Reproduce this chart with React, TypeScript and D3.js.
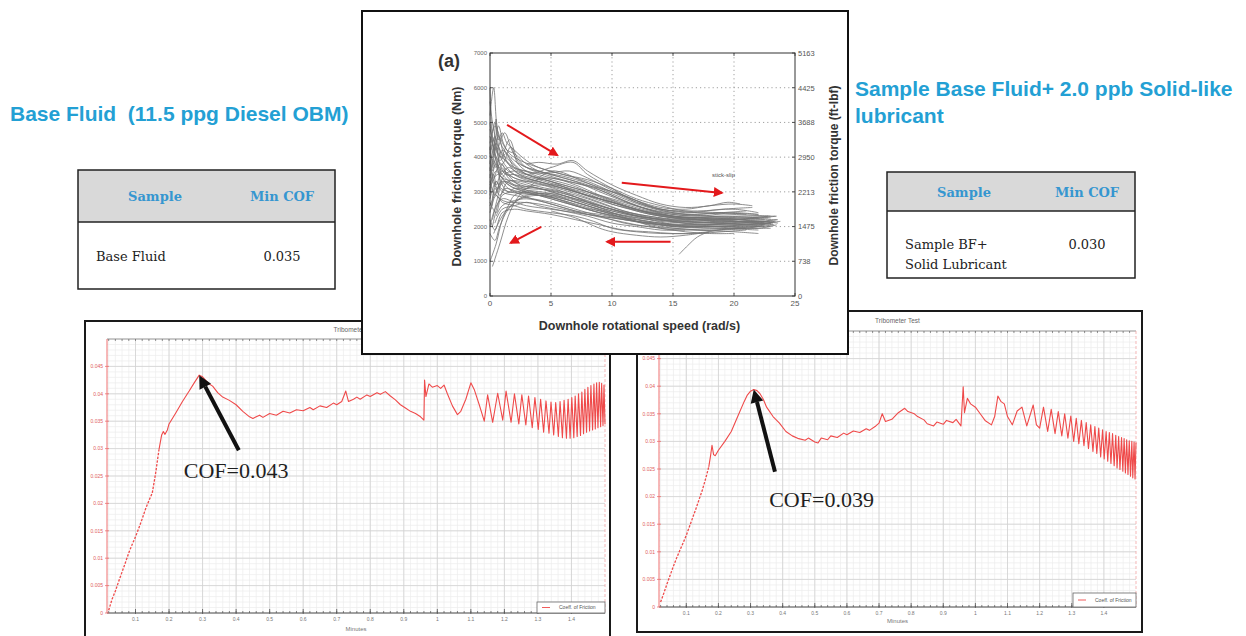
import React from "react";
import * as d3 from "d3";

// ---------- Tribometer runs: [minutes, coefficient of friction] ----------
const baseFluidRun: [number, number][] = [
  [0.02, 0.0005], [0.03, 0.0025], [0.04, 0.004], [0.05, 0.0058], [0.06, 0.0075], [0.07, 0.0092],
  [0.08, 0.011], [0.09, 0.0125], [0.1, 0.0139], [0.11, 0.0155], [0.12, 0.0172], [0.13, 0.019],
  [0.14, 0.0205], [0.15, 0.0219], [0.16, 0.0255], [0.17, 0.0298], [0.178, 0.0325], [0.183, 0.0331],
  [0.188, 0.0326], [0.195, 0.0334], [0.2, 0.0345], [0.22, 0.0365], [0.24, 0.0386], [0.26, 0.0405],
  [0.275, 0.042], [0.29, 0.0434], [0.3, 0.0431], [0.31, 0.0424], [0.32, 0.0418], [0.33, 0.0414],
  [0.345, 0.0402], [0.36, 0.0394], [0.38, 0.0388], [0.4, 0.038], [0.42, 0.0368], [0.44, 0.0358],
  [0.45, 0.0355], [0.46, 0.0358], [0.47, 0.0361], [0.48, 0.0357], [0.5, 0.0364], [0.52, 0.0361],
  [0.54, 0.0368], [0.56, 0.0365], [0.58, 0.0371], [0.6, 0.0369], [0.62, 0.0375], [0.63, 0.0371],
  [0.65, 0.0378], [0.67, 0.0375], [0.69, 0.0383], [0.7, 0.038], [0.715, 0.0386], [0.727, 0.0405],
  [0.735, 0.0386], [0.75, 0.039], [0.76, 0.0394], [0.77, 0.039], [0.79, 0.0398], [0.8, 0.0395],
  [0.82, 0.0402], [0.83, 0.0399], [0.845, 0.0404], [0.86, 0.0396], [0.875, 0.0389], [0.89, 0.038],
  [0.905, 0.0374], [0.92, 0.0368], [0.935, 0.0364], [0.95, 0.0358], [0.96, 0.0352], [0.962, 0.0425],
  [0.966, 0.0395], [0.975, 0.0418], [0.985, 0.0412], [1.0, 0.0415], [1.01, 0.041], [1.02, 0.0416],
  [1.03, 0.04], [1.045, 0.0378], [1.06, 0.0362], [1.07, 0.0368], [1.085, 0.039], [1.1, 0.042],
  [1.11, 0.0408], [1.125, 0.038], [1.14, 0.035], [1.15, 0.0398], [1.165, 0.0348], [1.18, 0.0401],
  [1.195, 0.0352], [1.205, 0.0405], [1.22, 0.0348], [1.23, 0.04], [1.243, 0.0345], [1.252, 0.0398],
  [1.264, 0.0343], [1.272, 0.0396], [1.283, 0.0338], [1.291, 0.0393], [1.301, 0.0335], [1.308, 0.039],
  [1.317, 0.033], [1.324, 0.0387], [1.333, 0.0328], [1.339, 0.0385], [1.347, 0.0325], [1.353, 0.0384],
  [1.361, 0.0322], [1.366, 0.0386], [1.373, 0.032], [1.378, 0.0388], [1.385, 0.0319], [1.39, 0.039],
  [1.396, 0.0319], [1.401, 0.0393], [1.407, 0.032], [1.411, 0.0396], [1.417, 0.0322], [1.421, 0.04],
  [1.427, 0.0324], [1.431, 0.0403], [1.436, 0.0327], [1.44, 0.0408], [1.445, 0.033], [1.449, 0.0412],
  [1.454, 0.0332], [1.458, 0.0415], [1.463, 0.0334], [1.467, 0.0418], [1.471, 0.0336], [1.475, 0.042],
  [1.479, 0.0338], [1.483, 0.0421], [1.487, 0.034], [1.49, 0.0419], [1.494, 0.0342], [1.497, 0.0416],
  [1.5, 0.0345],
];

const solidLubeRun: [number, number][] = [
  [0.02, 0.0009], [0.03, 0.0025], [0.04, 0.0042], [0.05, 0.0058], [0.06, 0.0074], [0.07, 0.0089],
  [0.08, 0.0103], [0.09, 0.0116], [0.1, 0.013], [0.11, 0.0146], [0.12, 0.0162], [0.13, 0.0178],
  [0.14, 0.0195], [0.15, 0.0212], [0.16, 0.0232], [0.17, 0.0254], [0.175, 0.0272], [0.18, 0.0293],
  [0.185, 0.0276], [0.19, 0.0274], [0.2, 0.0284], [0.22, 0.03], [0.24, 0.0318], [0.26, 0.0345],
  [0.28, 0.0372], [0.29, 0.0384], [0.3, 0.0391], [0.31, 0.0394], [0.32, 0.0392], [0.33, 0.0386],
  [0.34, 0.0376], [0.35, 0.0362], [0.37, 0.0345], [0.39, 0.0333], [0.41, 0.0318], [0.43, 0.031],
  [0.45, 0.0305], [0.47, 0.0302], [0.48, 0.0306], [0.5, 0.0299], [0.51, 0.0297], [0.52, 0.0306],
  [0.54, 0.0303], [0.55, 0.031], [0.57, 0.0307], [0.59, 0.0315], [0.6, 0.0312], [0.62, 0.0319],
  [0.64, 0.0316], [0.66, 0.0323], [0.67, 0.032], [0.69, 0.0328], [0.7, 0.0333], [0.71, 0.035],
  [0.72, 0.0336], [0.74, 0.034], [0.76, 0.0352], [0.78, 0.036], [0.79, 0.0354], [0.81, 0.035],
  [0.82, 0.0345], [0.84, 0.0339], [0.85, 0.0332], [0.87, 0.0328], [0.88, 0.0335], [0.9, 0.0331],
  [0.91, 0.0338], [0.93, 0.0334], [0.94, 0.034], [0.955, 0.0328], [0.962, 0.0399], [0.966, 0.0352],
  [0.975, 0.0378], [0.985, 0.0368], [1.0, 0.0362], [1.015, 0.035], [1.03, 0.0338], [1.05, 0.033],
  [1.06, 0.0345], [1.07, 0.0382], [1.08, 0.0372], [1.09, 0.0368], [1.1, 0.0345], [1.115, 0.033],
  [1.13, 0.0355], [1.145, 0.0362], [1.16, 0.0328], [1.18, 0.0366], [1.19, 0.033], [1.2, 0.0324],
  [1.212, 0.0362], [1.225, 0.0318], [1.236, 0.0358], [1.248, 0.0314], [1.258, 0.0354], [1.269, 0.031],
  [1.278, 0.035], [1.288, 0.0306], [1.297, 0.0346], [1.306, 0.03], [1.314, 0.0342], [1.322, 0.0296],
  [1.33, 0.0338], [1.338, 0.0292], [1.345, 0.0334], [1.352, 0.0287], [1.359, 0.033], [1.366, 0.0282],
  [1.372, 0.0327], [1.378, 0.0278], [1.384, 0.0324], [1.39, 0.0272], [1.396, 0.0321], [1.401, 0.0268],
  [1.407, 0.0318], [1.412, 0.0264], [1.417, 0.0316], [1.422, 0.026], [1.427, 0.0314], [1.432, 0.0256],
  [1.437, 0.0311], [1.441, 0.0252], [1.446, 0.0309], [1.45, 0.0249], [1.455, 0.0307], [1.459, 0.0246],
  [1.463, 0.0305], [1.467, 0.0243], [1.471, 0.0303], [1.475, 0.024], [1.479, 0.0301], [1.483, 0.0237],
  [1.487, 0.03], [1.49, 0.0234], [1.494, 0.0299], [1.497, 0.0232], [1.5, 0.0298],
];

const minuteTicks = [0.1, 0.2, 0.3, 0.4, 0.5, 0.6, 0.7, 0.8, 0.9, 1, 1.1, 1.2, 1.3, 1.4];
const cofTicks = [0, 0.005, 0.01, 0.015, 0.02, 0.025, 0.03, 0.035, 0.04, 0.045];

// ---------- Summary tables ----------
const baseTableRows = [["Base Fluid", "0.035"]];
const lubeTableRows = [["Sample BF+|Solid Lubricant", "0.030"]];

// ---------- Downhole torque vs rotational speed traces: [rad/s, N·m] ----------
const torqueTraces: [number, number][][] = [
  [[0, 3200], [0.5, 3600], [1, 3400], [2, 3300], [3, 3200], [5, 3000], [7, 2800], [10, 2500], [13, 2300], [16, 2150], [19, 2100], [22, 2050], [23.3, 2150]],
  [[0, 4200], [0.4, 5000], [0.8, 4200], [1.5, 3800], [3, 3500], [5, 3300], [7, 3000], [10, 2700], [13, 2400], [16, 2200], [19, 2200], [22, 2100], [23, 2200]],
  [[0, 2600], [0.5, 3000], [1, 3300], [2, 3100], [4, 2900], [6, 2700], [9, 2400], [12, 2200], [15, 2000], [18, 2000], [21, 1950], [22.5, 2050]],
  [[0, 5200], [0.3, 6000], [0.6, 4800], [1, 4300], [2, 3900], [3, 3700], [5, 3500], [7, 3300], [9, 3000], [12, 2600], [15, 2300], [18, 2250], [21, 2200], [23.5, 2200]],
  [[0, 3800], [0.5, 4400], [1, 3900], [2, 3500], [4, 3300], [6, 3100], [8, 2900], [11, 2600], [14, 2300], [17, 2200], [20, 2150], [23, 2100]],
  [[0, 1000], [0.5, 1500], [1, 2200], [1.5, 2600], [2, 2900], [3, 3000], [5, 2900], [7, 2700], [10, 2400], [13, 2200], [16, 2000], [19, 1950], [22, 1900]],
  [[0.2, 2200], [0.6, 2800], [1.2, 3500], [2, 3600], [3, 3500], [5, 3700], [6.8, 3850], [8, 3500], [10, 3100], [12, 2700], [15, 2400], [18, 2300], [21, 2250], [22.8, 2300]],
  [[0, 4600], [0.5, 4200], [1.2, 4700], [1.8, 4200], [2.5, 3800], [4, 3600], [6, 3400], [8, 3200], [10, 2900], [12, 2600], [14, 2400], [17, 2300], [20, 2400], [22, 2350]],
  [[0, 2000], [0.4, 2500], [1, 2800], [2, 2700], [3, 2600], [5, 2500], [7, 2400], [9, 2300], [11, 2200], [14, 2000], [17, 1900], [20, 1850], [22, 1800]],
  [[0, 3000], [0.3, 3900], [0.8, 3500], [1.5, 3200], [3, 3000], [5, 2800], [7, 2600], [9, 2450], [12, 2250], [15, 2150], [18, 2100], [21, 2050], [23, 2000]],
  [[0.1, 4000], [0.5, 3700], [1, 4200], [2, 3800], [3, 3500], [5, 3300], [7, 3100], [10, 2800], [13, 2500], [16, 2350], [19, 2400], [21, 2350]],
  [[0, 3500], [0.6, 3100], [1.2, 3300], [2, 3200], [4, 3100], [6, 2900], [8, 2650], [10, 2450], [12, 2300], [15, 2200], [18, 2150], [20, 2150], [22.5, 2200]],
  [[0.2, 850], [0.8, 1500], [1.5, 2300], [2.2, 2800], [3, 3100], [4, 3200], [6, 3000], [8, 2700], [10, 2400], [12, 2150], [14, 1950], [16, 1900]],
  [[0, 4800], [0.4, 4400], [0.9, 4000], [1.6, 4500], [2.2, 4000], [3, 3700], [4.5, 3500], [6.5, 3300], [9, 3100], [11, 2900], [13, 2600], [16, 2400], [19, 2500], [21.5, 2550]],
  [[0, 2800], [0.5, 3300], [1, 3000], [2, 2900], [3.5, 2800], [5, 2700], [7, 2500], [9, 2300], [11, 2100], [13, 2000], [15, 1950], [18, 1900], [20.5, 1950]],
  [[0, 3400], [0.3, 4100], [0.7, 4600], [1.2, 4000], [2, 3600], [3, 3400], [5, 3200], [7, 3000], [9, 2750], [11, 2550], [14, 2350], [17, 2200], [20, 2100], [23, 2150]],
  [[0.3, 1800], [1, 2300], [2, 2700], [3, 2900], [5, 2950], [7, 2800], [9, 2600], [11, 2400], [13, 2250], [16, 2100], [19, 2050], [22, 2050], [23.2, 2100]],
  [[0, 3700], [0.5, 3200], [1, 3600], [2, 3400], [3, 3300], [5, 3400], [7, 3200], [9, 2900], [11, 2650], [13, 2450], [15, 2300], [18, 2200], [21, 2150], [23.4, 2150]],
  [[0, 4400], [0.4, 4900], [0.9, 4500], [1.4, 4200], [2, 4100], [3, 3800], [4, 3600], [6, 3450], [8, 3250], [10, 3000], [12, 2750], [14, 2500], [17, 2450], [20, 2500], [22, 2400]],
  [[0, 2400], [0.5, 2900], [1, 2700], [2, 2600], [3, 2500], [5, 2400], [7, 2300], [8.5, 2150], [10, 1950], [12, 1850], [14, 1800], [16, 1800], [18, 1850]],
  [[0.1, 3300], [0.5, 3800], [1, 3500], [2, 3200], [3, 3100], [5, 3050], [7, 2850], [9, 2600], [11, 2400], [13, 2250], [16, 2150], [19, 2200], [22, 2250], [23.5, 2300]],
  [[0, 5600], [0.2, 5000], [0.5, 4500], [1, 4100], [1.6, 3900], [2.5, 3600], [4, 3400], [6, 3200], [8, 3000], [10, 2750], [12, 2500], [15, 2300], [18, 2250], [21, 2200]],
  [[0.2, 2000], [0.6, 2600], [1, 3000], [1.5, 3300], [2.5, 3300], [4, 3150], [6, 3000], [8, 2800], [10, 2550], [12, 2350], [14, 2200], [17, 2050], [20, 2000], [22.5, 2000]],
  [[0, 3900], [0.3, 3400], [0.8, 3800], [1.5, 3600], [2.5, 3400], [4, 3250], [6, 3100], [8, 2900], [11, 2600], [14, 2350], [17, 2250], [20, 2200], [22, 2250]],
  [[0.5, 2300], [1, 2600], [2, 2750], [3, 2800], [4.5, 2700], [6, 2550], [8, 2350], [10, 2200], [12, 2050], [14, 1950], [16, 1850], [18, 1800], [20, 1800]],
  [[0, 4100], [0.3, 4500], [0.6, 4100], [1.3, 3900], [2, 3700], [3.5, 3550], [5, 3550], [6.5, 3600], [8, 3400], [10, 3050], [12, 2750], [14, 2550], [16, 2500], [18, 2600], [20, 2650], [21.5, 2600]],
  [[0, 3100], [0.6, 3500], [1.3, 3300], [2.5, 3100], [4, 2950], [6, 2750], [8, 2550], [10, 2350], [12, 2150], [14, 2050], [16, 2000], [19, 2000], [22, 1950], [23.5, 2050]],
  [[0, 1800], [0.4, 1600], [0.8, 2000], [1.5, 2500], [2.5, 2800], [4, 2900], [6, 2800], [8, 2600], [10, 2350], [12, 2150], [15, 2000], [18, 1950], [21, 1950], [23, 1950]],
  [[0.1, 4700], [0.4, 4100], [1, 3800], [1.7, 4300], [2.3, 3800], [3.5, 3500], [5, 3350], [7, 3150], [9, 2850], [11, 2600], [13, 2400], [16, 2250], [19, 2300], [22, 2250]],
  [[5, 2450], [7, 2250], [8, 2100], [9, 1950], [10, 1850], [12, 1750], [14, 1700], [16, 1750], [18, 1850]],
  [[15.5, 1200], [16.2, 1450], [17, 1700], [18, 1850], [20, 1950], [22, 2000]],
  [[0.2, 2600], [0.5, 3300], [0.9, 3100], [1.6, 3000], [2.5, 2950], [4, 2900], [6, 2750], [8, 2500], [10, 2300], [13, 2100], [16, 2000], [19, 2000], [22, 2000], [23.2, 2050]],
  [[0, 6000], [0.2, 4500], [0.5, 3900], [1, 3600], [2, 3400], [3, 3300], [5, 3150], [7, 2950], [9, 2700], [11, 2450], [13, 2300], [16, 2200], [19, 2250], [22, 2150], [23.6, 2200]],
  [[0.3, 3000], [0.8, 2800], [1.5, 2700], [2.5, 2700], [4, 2650], [6, 2500], [8, 2350], [10, 2250], [12, 2150], [14, 2100], [17, 2050], [20, 2100], [22.5, 2100]],
  [[3, 3800], [4, 3850], [5.5, 3800], [6.8, 3900], [8, 3600], [10, 3200], [12, 2900], [14, 2650], [16, 2550], [18, 2600], [19.5, 2700], [20.5, 2650]],
  [[0, 2200], [0.4, 1900], [1, 2400], [2, 2500], [3, 2450], [5, 2350], [7, 2200], [9, 2050], [11, 1900], [13, 1850], [15, 1800], [17, 1800], [19, 1850], [21, 1900]],
  [[0.3, 4000], [0.5, 5100], [0.7, 4500], [1, 4700], [1.4, 4400], [2, 4200], [3, 3900], [4, 3700], [6, 3500], [8, 3300], [10, 3000], [12, 2700], [14, 2500], [17, 2400], [20, 2350], [23, 2300]],
  [[0, 3600], [0.3, 4300], [0.6, 3700], [1, 3200], [1.5, 3000], [2, 3100], [3, 3050], [5, 2950], [7, 2700], [9, 2500], [11, 2300], [13, 2150], [15, 2050], [18, 2050], [21, 2050], [23.8, 2150]],
  [[0, 2900], [0.3, 3500], [0.6, 3000], [1, 3800], [1.5, 3400], [2.5, 3200], [4, 3100], [6, 2950], [8, 2750], [10, 2500], [12, 2300], [14, 2150], [17, 2100], [20, 2150], [22.5, 2150]],
  [[0, 4300], [0.2, 3600], [0.5, 4000], [0.9, 3500], [1.5, 3700], [2.5, 3500], [4, 3350], [6, 3150], [8, 2950], [10, 2650], [12, 2450], [14, 2300], [17, 2250], [20, 2250], [23, 2250]],
  [[0.1, 2500], [0.4, 3100], [0.8, 2900], [1.3, 3100], [2, 3000], [3, 2850], [5, 2650], [7, 2450], [9, 2350], [11, 2200], [13, 2100], [15, 2050], [18, 2050], [21, 2100], [23.3, 2050]],
  [[0, 5000], [0.3, 4300], [0.7, 4900], [1.1, 4400], [1.6, 4100], [2.5, 3900], [4, 3700], [6, 3500], [8, 3350], [10, 3100], [12, 2800], [14, 2600], [16, 2450], [19, 2400], [22, 2350]],
  [[0, 3300], [0.4, 2900], [0.9, 3300], [1.5, 3100], [2.5, 3000], [4, 2950], [6, 2850], [8, 2650], [10, 2450], [12, 2300], [14, 2200], [16, 2150], [19, 2100], [22, 2150], [23.6, 2100]],
  [[0.2, 3700], [0.5, 4300], [0.8, 3800], [1.3, 3500], [2, 3500], [3, 3400], [4.5, 3250], [6, 3150], [8, 2900], [10, 2700], [12, 2450], [14, 2300], [17, 2200], [20, 2200], [22.8, 2250]],
  [[0, 2700], [0.5, 2400], [1, 2900], [2, 3000], [3, 2950], [5, 2850], [7, 2600], [9, 2400], [11, 2250], [13, 2150], [15, 2050], [18, 2000], [21, 2050], [23, 2100]],
  [[1, 3700], [2, 3300], [3, 3100], [4, 3400], [5, 3600], [6, 3550], [7, 3400], [9, 3100], [11, 2800], [13, 2550], [15, 2400], [17, 2350], [19, 2400], [21, 2450]],
  [[0, 4000], [0.4, 4600], [0.8, 3900], [1.3, 4100], [2, 3700], [3, 3600], [5, 3400], [7, 3250], [9, 3050], [11, 2750], [13, 2500], [15, 2350], [18, 2300], [21, 2300], [23.4, 2300]],
  [[0.4, 2100], [1, 2500], [2, 2600], [3, 2700], [4, 2600], [6, 2450], [8, 2300], [10, 2100], [12, 2000], [14, 1900], [16, 1900], [19, 1900], [21, 1950]],
];

const speedTicks = [0, 5, 10, 15, 20, 25];
const torqueNmTicks = [0, 1000, 2000, 3000, 4000, 5000, 6000, 7000];
const torqueFtLbfTicks = ["0", "738", "1475", "2213", "2950", "3688", "4425", "5163"];

// Trend arrows in data units [speed, torque]
const trendArrows: { from: [number, number]; to: [number, number] }[] = [
  { from: [1.4, 4930], to: [5.5, 4060] },
  { from: [10.8, 3260], to: [19.0, 2970] },
  { from: [14.8, 1560], to: [9.6, 1560] },
  { from: [4.2, 1990], to: [1.7, 1530] },
];

const HEAD = "#23a0d4";
const TABLE_BLUE = "#3596d0";
const RED = "#ef4a4a";

type Rect = { left: number; right: number; top: number; bottom: number };

function TriboPanel(props: {
  frame: { x: number; y: number; w: number; h: number };
  plot: Rect;
  titleY: number;
  minutesY: number;
  run: [number, number][];
  label: string;
  labelAt: [number, number];
  tail: [number, number];
  legend: { x: number; y: number; w: number; h: number };
}) {
  const { frame, plot, run } = props;
  const x = d3.scaleLinear().domain([0.015, 1.5]).range([plot.left, plot.right]);
  const y = d3.scaleLinear().domain([0, 0.05]).range([plot.bottom, plot.top]);
  const minorX = d3.range(1, 75).map((i) => i * 0.02);
  const minorY = d3.range(1, 50).map((i) => i * 0.001);
  const line = d3
    .line<[number, number]>()
    .x((d) => x(d[0]))
    .y((d) => y(d[1]));
  const ramp = run.filter((d) => d[0] <= 0.17);
  const rest = run.filter((d) => d[0] >= 0.17);
  // first friction peak (run-in), before the stick-slip region
  const peak = run.filter((d) => d[0] < 0.5).reduce((a, b) => (b[1] > a[1] ? b : a));
  const tip: [number, number] = [x(peak[0]), y(peak[1])];
  const tl: [number, number] = [x(props.tail[0]), y(props.tail[1])];
  const ang = Math.atan2(tip[1] - tl[1], tip[0] - tl[0]);
  const hl = 13;
  const hw = 6.5;
  const base: [number, number] = [tip[0] - hl * Math.cos(ang), tip[1] - hl * Math.sin(ang)];
  const nx = -Math.sin(ang);
  const ny = Math.cos(ang);
  const head = [
    tip,
    [base[0] + nx * hw, base[1] + ny * hw],
    [base[0] - nx * hw, base[1] - ny * hw],
  ]
    .map((p) => p.join(","))
    .join(" ");
  const cx = (plot.left + plot.right) / 2;
  return (
    <g>
      <rect x={frame.x} y={frame.y} width={frame.w} height={frame.h} fill="#fff" stroke="#1a1a1a" strokeWidth={2} />
      <text x={cx} y={props.titleY} textAnchor="middle" fontSize={6.5} fill="#666" fontFamily="Liberation Sans, Arial">
        Tribometer Test
      </text>
      {/* minor grid */}
      {minorX.map((v, i) => (
        <line key={"mx" + i} x1={x(v)} x2={x(v)} y1={plot.top} y2={plot.bottom} stroke="#ececec" strokeWidth={0.7} />
      ))}
      {minorY.map((v, i) => (
        <line key={"my" + i} x1={plot.left} x2={plot.right} y1={y(v)} y2={y(v)} stroke="#ececec" strokeWidth={0.7} />
      ))}
      {/* major grid */}
      {minuteTicks.map((v, i) => (
        <line key={"gx" + i} x1={x(v)} x2={x(v)} y1={plot.top} y2={plot.bottom} stroke="#d2d2d2" strokeWidth={0.8} />
      ))}
      {cofTicks.map((v, i) => (
        <line key={"gy" + i} x1={plot.left} x2={plot.right} y1={y(v)} y2={y(v)} stroke="#d2d2d2" strokeWidth={0.8} />
      ))}
      {/* top edge with ticks */}
      <line x1={plot.left} x2={plot.right} y1={plot.top} y2={plot.top} stroke="#777" strokeWidth={0.8} />
      {minorX.map((v, i) => (
        <line key={"tt" + i} x1={x(v)} x2={x(v)} y1={plot.top} y2={plot.top + 2} stroke="#666" strokeWidth={0.7} />
      ))}
      {/* right edge */}
      <line x1={plot.right} x2={plot.right} y1={plot.top} y2={plot.bottom} stroke="#f2a5a5" strokeWidth={0.8} strokeDasharray="3,2" />
      {/* bottom axis */}
      <line x1={plot.left} x2={plot.right} y1={plot.bottom} y2={plot.bottom} stroke="#555" strokeWidth={1} />
      {minorX.map((v, i) => (
        <line key={"bt" + i} x1={x(v)} x2={x(v)} y1={plot.bottom} y2={plot.bottom - 2} stroke="#555" strokeWidth={0.7} />
      ))}
      {minuteTicks.map((v, i) => (
        <g key={"xl" + i}>
          <line x1={x(v)} x2={x(v)} y1={plot.bottom + 1} y2={plot.bottom - 4} stroke="#555" strokeWidth={0.8} />
          <text x={x(v)} y={plot.bottom + 8} textAnchor="middle" fontSize={5} fill="#777" fontFamily="Liberation Sans, Arial">
            {String(v)}
          </text>
        </g>
      ))}
      <text x={cx} y={props.minutesY} textAnchor="middle" fontSize={6} fill="#777" fontFamily="Liberation Sans, Arial">
        Minutes
      </text>
      {/* left axis in red */}
      <line x1={plot.left} x2={plot.left} y1={plot.top} y2={plot.bottom} stroke="#ee7070" strokeWidth={1} />
      {cofTicks.map((v, i) => (
        <g key={"yl" + i}>
          <line x1={plot.left - 2} x2={plot.left + 2} y1={y(v)} y2={y(v)} stroke="#ee7070" strokeWidth={0.8} />
          <text x={plot.left - 4} y={y(v) + 1.8} textAnchor="end" fontSize={5} fill="#e06060" fontFamily="Liberation Sans, Arial">
            {String(v)}
          </text>
        </g>
      ))}
      {/* friction trace */}
      <path d={line(ramp) || ""} fill="none" stroke={RED} strokeWidth={1.3} strokeDasharray="2.4,1.4" />
      <path d={line(rest) || ""} fill="none" stroke={RED} strokeWidth={1.1} strokeLinejoin="round" />
      {/* legend */}
      <rect x={props.legend.x} y={props.legend.y} width={props.legend.w} height={props.legend.h} fill="#fff" stroke="#666" strokeWidth={0.8} />
      <line
        x1={props.legend.x + 5}
        x2={props.legend.x + 13}
        y1={props.legend.y + props.legend.h / 2}
        y2={props.legend.y + props.legend.h / 2}
        stroke={RED}
        strokeWidth={0.9}
      />
      <text
        x={props.legend.x + 22}
        y={props.legend.y + props.legend.h / 2 + 1.8}
        fontSize={5}
        fill="#555"
        fontFamily="Liberation Sans, Arial"
      >
        Coeff. of Friction
      </text>
      {/* peak annotation */}
      <line x1={tl[0]} y1={tl[1]} x2={base[0]} y2={base[1]} stroke="#111" strokeWidth={4} />
      <polygon points={head} fill="#111" />
      <text
        x={x(props.labelAt[0])}
        y={y(props.labelAt[1])}
        fontSize={22}
        fill="#1e1e1e"
        fontFamily="Liberation Serif, Times New Roman, serif"
      >
        {props.label}
      </text>
    </g>
  );
}

function TorquePanel() {
  const plot = { left: 490, right: 795, top: 53, bottom: 296 };
  const sx = d3.scaleLinear().domain([0, 25]).range([plot.left, plot.right]);
  const sy = d3.scaleLinear().domain([0, 7000]).range([plot.bottom, plot.top]);
  const line = d3
    .line<[number, number]>()
    .x((d) => sx(d[0]))
    .y((d) => sy(d[1]))
    .curve(d3.curveCatmullRom.alpha(0.5));
  const font = "Liberation Sans, Arial, sans-serif";
  return (
    <g>
      <rect x={362} y={11} width={486} height={343} fill="#fff" stroke="#111" strokeWidth={2} />
      <defs>
        <marker id="redHead" viewBox="0 0 10 10" refX={8} refY={5} markerWidth={5} markerHeight={5} orient="auto">
          <path d="M0,0 L10,5 L0,10 z" fill="#e3191c" />
        </marker>
      </defs>
      {/* dotted grid */}
      {speedTicks.slice(1, -1).map((v, i) => (
        <line key={"vx" + i} x1={sx(v)} x2={sx(v)} y1={plot.top} y2={plot.bottom} stroke="#888" strokeWidth={0.8} strokeDasharray="1.2,3" />
      ))}
      {torqueNmTicks.slice(1, -1).map((v, i) => (
        <line key={"hy" + i} x1={plot.left} x2={plot.right} y1={sy(v)} y2={sy(v)} stroke="#888" strokeWidth={0.8} strokeDasharray="1.2,3" />
      ))}
      {/* traces */}
      <g fill="none" stroke="#737373" strokeWidth={1} strokeOpacity={0.8}>
        {torqueTraces.map((t, i) => (
          <path key={"tr" + i} d={line(t) || ""} />
        ))}
      </g>
      {/* frame and ticks */}
      <rect x={plot.left} y={plot.top} width={plot.right - plot.left} height={plot.bottom - plot.top} fill="none" stroke="#333" strokeWidth={1} />
      {speedTicks.map((v, i) => (
        <g key={"sx" + i}>
          <line x1={sx(v)} x2={sx(v)} y1={plot.bottom} y2={plot.bottom - 3} stroke="#333" strokeWidth={0.8} />
          <line x1={sx(v)} x2={sx(v)} y1={plot.top} y2={plot.top + 3} stroke="#333" strokeWidth={0.8} />
          <text x={sx(v)} y={plot.bottom + 10} textAnchor="middle" fontSize={8} fill="#555" fontFamily={font}>
            {String(v)}
          </text>
        </g>
      ))}
      {torqueNmTicks.map((v, i) => (
        <g key={"ny" + i}>
          <line x1={plot.left} x2={plot.left + 3} y1={sy(v)} y2={sy(v)} stroke="#333" strokeWidth={0.8} />
          <line x1={plot.right} x2={plot.right - 3} y1={sy(v)} y2={sy(v)} stroke="#333" strokeWidth={0.8} />
          <text x={plot.left - 3} y={sy(v) + 2.2} textAnchor="end" fontSize={6} fill="#666" fontFamily={font}>
            {String(v)}
          </text>
          <text x={plot.right + 3} y={sy(v) + 2.8} textAnchor="start" fontSize={7.5} fill="#555" fontFamily={font}>
            {torqueFtLbfTicks[i]}
          </text>
        </g>
      ))}
      {/* trend arrows */}
      {trendArrows.map((a, i) => (
        <line
          key={"ar" + i}
          x1={sx(a.from[0])}
          y1={sy(a.from[1])}
          x2={sx(a.to[0])}
          y2={sy(a.to[1])}
          stroke="#e3191c"
          strokeWidth={2}
          markerEnd="url(#redHead)"
        />
      ))}
      <text x={sx(18.2)} y={sy(3420)} fontSize={6} fill="#555" fontFamily={font}>
        stick-slip
      </text>
      <text x={438} y={67} fontSize={18} fontWeight="bold" fill="#333" fontFamily={font}>
        (a)
      </text>
      <text
        transform={`translate(461,${(plot.top + plot.bottom) / 2 + 2}) rotate(-90)`}
        textAnchor="middle"
        fontSize={12.5}
        fontWeight="bold"
        fill="#333"
        fontFamily={font}
      >
        Downhole friction torque (Nm)
      </text>
      <text
        transform={`translate(838,${(plot.top + plot.bottom) / 2 + 1}) rotate(-90)`}
        textAnchor="middle"
        fontSize={12}
        fontWeight="bold"
        fill="#333"
        fontFamily={font}
      >
        Downhole friction torque (ft-lbf)
      </text>
      <text x={(plot.left + plot.right) / 2 - 3} y={330} textAnchor="middle" fontSize={12.5} fontWeight="bold" fill="#333" fontFamily={font}>
        Downhole rotational speed (rad/s)
      </text>
    </g>
  );
}

function SummaryTable(props: {
  x: number;
  y: number;
  w: number;
  h: number;
  headH: number;
  colA: number;
  colB: number;
  rows: string[][];
  rowY: number;
  textX: number;
}) {
  const serif = "DejaVu Serif, Liberation Serif, serif";
  return (
    <g>
      <rect x={props.x} y={props.y} width={props.w} height={props.headH} fill="#d9d9d9" />
      <rect x={props.x} y={props.y} width={props.w} height={props.h} fill="none" stroke="#222" strokeWidth={1.5} />
      <line x1={props.x} x2={props.x + props.w} y1={props.y + props.headH} y2={props.y + props.headH} stroke="#222" strokeWidth={1.5} />
      <text x={props.colA} y={props.y + props.headH / 2 + 5} textAnchor="middle" fontSize={13} fontWeight="bold" fill={TABLE_BLUE} fontFamily={serif}>
        Sample
      </text>
      <text x={props.colB} y={props.y + props.headH / 2 + 5} textAnchor="middle" fontSize={13} fontWeight="bold" fill={TABLE_BLUE} fontFamily={serif}>
        Min COF
      </text>
      {props.rows.map((r, i) => (
        <g key={i}>
          {r[0].split("|").map((s, j) => (
            <text key={j} x={props.textX} y={props.rowY + j * 20} fontSize={13} fill="#222" fontFamily={serif}>
              {s}
            </text>
          ))}
          <text x={props.colB} y={props.rowY} textAnchor="middle" fontSize={13} fill="#222" fontFamily={serif}>
            {r[1]}
          </text>
        </g>
      ))}
    </g>
  );
}

export default function App() {
  const sans = "Liberation Sans, Arial, sans-serif";
  return (
    <svg
      width={1246}
      height={636}
      viewBox="0 0 1246 636"
      style={{ position: "fixed", left: 0, top: 0, background: "#fff" }}
    >
      <rect width={1246} height={636} fill="#fff" />
      <text x={10} y={121} fontSize={21} fontWeight="bold" fill={HEAD} fontFamily={sans} xmlSpace="preserve" style={{ whiteSpace: "pre" }}>
        {"Base Fluid  (11.5 ppg Diesel OBM)"}
      </text>
      <text x={855} y={96} fontSize={21} fontWeight="bold" fill={HEAD} fontFamily={sans}>
        Sample Base Fluid+ 2.0 ppb Solid-like
      </text>
      <text x={855} y={123} fontSize={21} fontWeight="bold" fill={HEAD} fontFamily={sans}>
        lubricant
      </text>

      <SummaryTable x={78} y={170} w={257} h={119} headH={52} colA={155} colB={282} rows={baseTableRows} rowY={261} textX={96} />
      <SummaryTable x={887} y={172} w={248} h={106} headH={39} colA={964} colB={1087} rows={lubeTableRows} rowY={249} textX={905} />

      <TriboPanel
        frame={{ x: 85, y: 321, w: 525, h: 330 }}
        plot={{ left: 107, right: 605, top: 339, bottom: 613 }}
        titleY={332}
        minutesY={631}
        run={baseFluidRun}
        label="COF=0.043"
        labelAt={[0.244, 0.0246]}
        tail={[0.408, 0.0297]}
        legend={{ x: 537, y: 602, w: 68, h: 11 }}
      />
      <TriboPanel
        frame={{ x: 637, y: 311, w: 505, h: 321 }}
        plot={{ left: 659, right: 1136, top: 331, bottom: 607 }}
        titleY={323}
        minutesY={623}
        run={solidLubeRun}
        label="COF=0.039"
        labelAt={[0.358, 0.0181]}
        tail={[0.376, 0.0245]}
        legend={{ x: 1073, y: 593, w: 63, h: 14 }}
      />

      <TorquePanel />
    </svg>
  );
}
